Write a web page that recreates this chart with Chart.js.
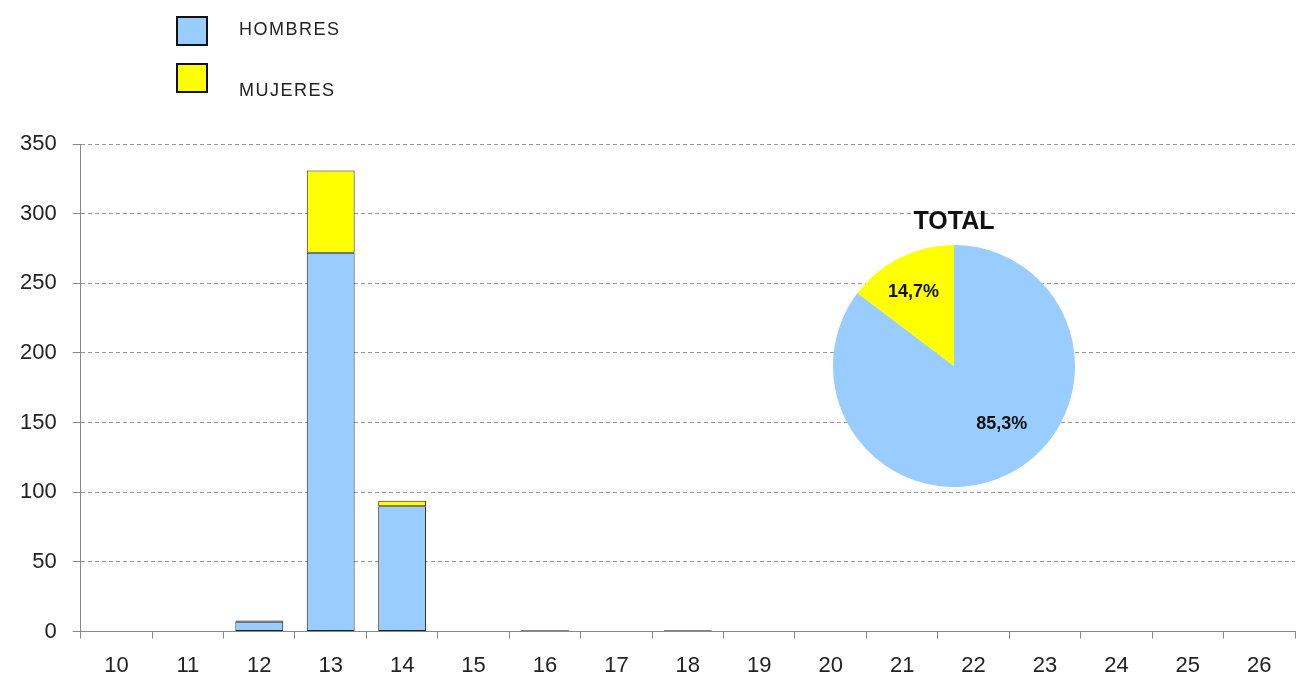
<!DOCTYPE html>
<html>
<head>
<meta charset="utf-8">
<script src="https://cdn.jsdelivr.net/npm/chart.js@4.4.0/dist/chart.umd.min.js"></script>
<style>
  body { margin: 0; background: #fff; font-family: "Liberation Sans", Arial, sans-serif; overflow: hidden; }
  #wrap { position: relative; width: 1300px; height: 680px; overflow: hidden; }
  #barras { position: absolute; left: 0; top: 0; }
  #torta { position: absolute; left: 824px; top: 207px; }
  .leg { position: absolute; width: 28px; height: 26px; border: 2px solid #111; box-sizing: content-box; }
  .legtxt { position: absolute; font-size: 18px; color: #222; line-height: 20px; letter-spacing: 1.5px; }
</style>
</head>
<body>
<div id="wrap">
  <canvas id="barras" width="1300" height="695"></canvas>
  <canvas id="torta" width="260" height="280"></canvas>
  <div class="leg" style="left:176px;top:16px;background:#99CCFF"></div>
  <div class="legtxt" style="left:239px;top:19px">HOMBRES</div>
  <div class="leg" style="left:176px;top:63px;background:#FFFF00"></div>
  <div class="legtxt" style="left:239px;top:80px">MUJERES</div>
</div>
<script>
// edades
const edades = ['10','11','12','13','14','15','16','17','18','19','20','21','22','23','24','25','26'];
// cantidades por edad
const hombres = [0, 0, 7, 272, 90, 0, 1, 0, 1, 0, 0, 0, 0, 0, 0, 0, 0];
const mujeres = [0, 0, 1, 59, 4, 0, 0, 0, 0, 0, 0, 0, 0, 0, 0, 0, 0];
const nombres = ['HOMBRES', 'MUJERES'];
const colores = ['#99CCFF', '#FFFF00'];

const fuente = "'Liberation Sans', Arial, sans-serif";

// grafico de barras apiladas
new Chart(document.getElementById('barras').getContext('2d'), {
  type: 'bar',
  data: {
    labels: edades,
    datasets: [
      { label: nombres[0], data: hombres, backgroundColor: colores[0], borderColor: '#222', borderWidth: 1, borderSkipped: false, barPercentage: 0.67, categoryPercentage: 1 },
      { label: nombres[1], data: mujeres, backgroundColor: colores[1], borderColor: '#222', borderWidth: 1, borderSkipped: false, barPercentage: 0.67, categoryPercentage: 1 }
    ]
  },
  options: {
    responsive: false,
    animation: false,
    layout: { padding: { top: 144, right: 5, left: 4, bottom: 2 } },
    plugins: { legend: { display: false }, tooltip: { enabled: false } },
    scales: {
      x: {
        stacked: true,
        grid: { display: true, offset: true, drawOnChartArea: false, drawTicks: true, tickLength: 7, color: '#888' },
        border: { color: '#888', width: 1 },
        ticks: { color: '#222', font: { family: fuente, size: 22 }, padding: 14 }
      },
      y: {
        stacked: true,
        min: 0, max: 350,
        ticks: { stepSize: 50, color: '#222', font: { family: fuente, size: 22 }, padding: 16 },
        grid: { color: '#999', tickLength: 8, tickColor: '#888', tickBorderDash: [] },
        border: { color: '#888', width: 1, dash: [4, 3] }
      }
    }
  }
});

// etiquetas de porcentaje dentro de la torta
const etiquetasTorta = {
  id: 'etiquetasTorta',
  afterDatasetsDraw(chart) {
    const ctx = chart.ctx;
    const meta = chart.getDatasetMeta(0);
    const datos = chart.data.datasets[0].data;
    const suma = datos.reduce((a, b) => a + b, 0);
    const factores = [0.62, 0.70];
    const giro = [-13, -2]; // grados
    ctx.save();
    ctx.font = 'bold 18px ' + fuente;
    ctx.fillStyle = '#111';
    ctx.textAlign = 'center';
    ctx.textBaseline = 'middle';
    meta.data.forEach((arc, i) => {
      const p = arc.getProps(['x', 'y', 'startAngle', 'endAngle', 'outerRadius']);
      const ang = (p.startAngle + p.endAngle) / 2 + giro[i] * Math.PI / 180;
      const r = p.outerRadius * factores[i];
      const txt = (datos[i] / suma * 100).toFixed(1).replace('.', ',') + '%';
      ctx.fillText(txt, p.x + Math.cos(ang) * r, p.y + Math.sin(ang) * r);
    });
    ctx.restore();
  }
};

const totHombres = hombres.reduce((a, b) => a + b, 0);
const totMujeres = mujeres.reduce((a, b) => a + b, 0);

new Chart(document.getElementById('torta').getContext('2d'), {
  type: 'pie',
  data: {
    labels: nombres,
    datasets: [{ data: [totHombres, totMujeres], backgroundColor: colores, borderWidth: 0 }]
  },
  options: {
    responsive: false,
    animation: false,
    layout: { padding: 0 },
    plugins: {
      legend: { display: false },
      tooltip: { enabled: false },
      title: { display: true, text: 'TOTAL', color: '#111', font: { family: fuente, size: 25, weight: 'bold' }, padding: { top: 0, bottom: 8 } }
    }
  },
  plugins: [etiquetasTorta]
});
</script>
</body>
</html>
